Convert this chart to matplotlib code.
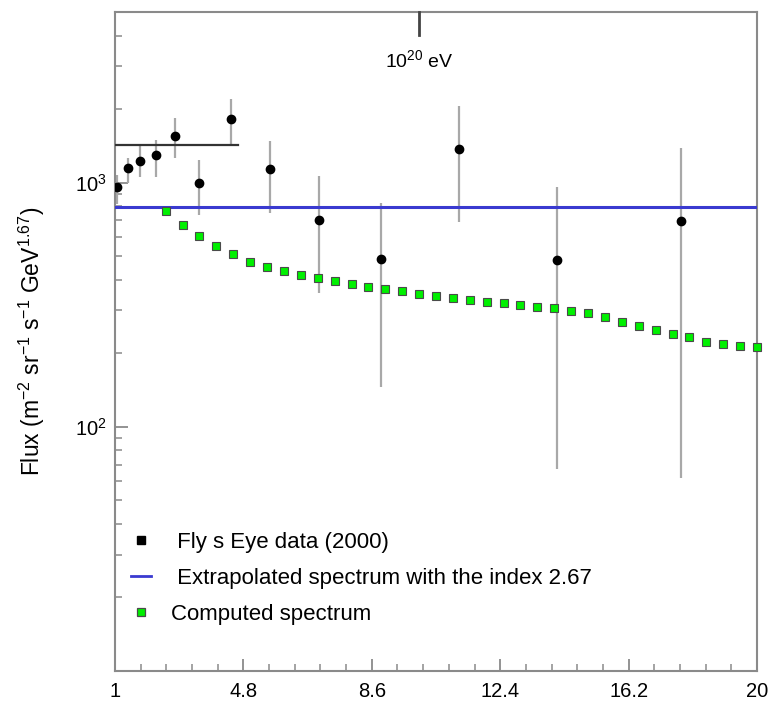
import numpy as np
import matplotlib
matplotlib.use("Agg")
import matplotlib.pyplot as plt
from matplotlib.lines import Line2D
from matplotlib.ticker import FixedLocator, LogLocator, NullFormatter, AutoMinorLocator

plt.rcParams['font.family'] = ['Liberation Sans', 'DejaVu Sans']
plt.rcParams['mathtext.default'] = 'regular'

# ---- data ----
fly_x = [1.07, 1.38, 1.74, 2.20, 2.78, 3.48, 4.43, 5.59, 7.04, 8.87, 11.18, 14.08, 17.75]
fly_y = [960, 1145, 1224, 1302, 1553, 1000, 1824, 1135, 703, 487, 1378, 484, 695]
fly_lo = [820, 997, 1055, 1055, 1262, 738, 1427, 751, 353, 146, 692, 67, 61.5]
fly_hi = [1080, 1262, 1413, 1497, 1842, 1239, 2203, 1482, 1065, 826, 2061, 963, 1388]

comp_x = [2.5, 3.0, 3.5, 4.0, 4.5, 5.0, 5.5, 6.0, 6.5, 7.0, 7.5, 8.0, 8.5, 9.0, 9.5,
          10.0, 10.5, 11.0, 11.5, 12.0, 12.5, 13.0, 13.5, 14.0, 14.5, 15.0, 15.5,
          16.0, 16.5, 17.0, 17.5, 18.0, 18.5, 19.0, 19.5, 20.0]
comp_y = [768, 673, 607, 551, 509, 473, 451, 434, 420, 408, 396, 385, 375, 366, 359,
          351, 343, 338, 331, 325, 321, 316, 311, 306, 297, 293, 282,
          270, 260, 249, 240, 233, 222, 218, 215, 213]

extrap_level = 798
ref_level_x = [1.0, 4.65]
ref_level_y = 1427
marker_e20_x = 10.0
marker_e20_y = [4030, 5000]

xticks = [1, 4.8, 8.6, 12.4, 16.2, 20]
xticklabels = ['1', '4.8', '8.6', '12.4', '16.2', '20']
yticks = [100, 1000]
yticklabels = ['$10^{2}$', '$10^{3}$']

# ---- figure ----
fig = plt.figure(figsize=(7.72, 7.04), dpi=100)
ax = fig.add_axes([115/772, 1-671/704, (757-115)/772, (671-12)/704])
ax.set_yscale('log')
ax.set_xlim(1, 20)
ax.set_ylim(10, 5000)

# extrapolated spectrum
ax.axhline(extrap_level, color='#3a3ad0', lw=2.2, zorder=3)
# reference level line
ax.plot(ref_level_x, [ref_level_y, ref_level_y], color='#333333', lw=1.6, zorder=3)
# 10^20 eV marker
ax.plot([marker_e20_x, marker_e20_x], marker_e20_y, color='#444444', lw=2, zorder=3, clip_on=False)
ax.text(marker_e20_x, 3180, '$10^{20}$ eV', ha='center', va='center', fontsize=14)

# error bars
fy = np.array(fly_y)
yerr = np.vstack([fy - np.array(fly_lo), np.array(fly_hi) - fy])
ax.errorbar(fly_x, fly_y, yerr=yerr, fmt='none', ecolor='#a8a8a8', elinewidth=1.6, capsize=0, zorder=2)
ax.plot(fly_x, fly_y, 'o', color='black', ms=6, zorder=5)

# computed spectrum
ax.plot(comp_x, comp_y, 's', ls='none', mfc='#00f000', mec='#4a4a4a', mew=0.8, ms=5.8, zorder=4, clip_on=False)

# axes styling
for sp in ax.spines.values():
    sp.set_color('#8a8a8a')
    sp.set_linewidth(1.5)

ax.xaxis.set_major_locator(FixedLocator(xticks))
ax.set_xticklabels(xticklabels)
ax.xaxis.set_minor_locator(AutoMinorLocator(5))
ax.yaxis.set_major_locator(FixedLocator(yticks))
ax.set_yticklabels(yticklabels)
ax.yaxis.set_minor_locator(LogLocator(base=10, subs=np.arange(2, 10)))
ax.yaxis.set_minor_formatter(NullFormatter())

ax.tick_params(which='major', direction='in', length=9, width=1.3, color='#8a8a8a', labelsize=14.5)
ax.tick_params(which='minor', direction='in', length=5, width=1.1, color='#8a8a8a')
ax.tick_params(axis='x', which='major', pad=8)
ax.tick_params(axis='y', which='major', pad=6)
ax.tick_params(top=False, right=False, which='both')

ax.set_ylabel('Flux (m$^{-2}$ sr$^{-1}$ s$^{-1}$ GeV$^{1.67}$)', fontsize=16.5, labelpad=20)

handles = [
    Line2D([], [], marker='s', ls='none', color='black', ms=6),
    Line2D([], [], color='#3a3ad0', lw=2),
    Line2D([], [], marker='s', ls='none', mfc='#00f000', mec='#4a4a4a', mew=0.9, ms=6),
]
labels = [' Fly s Eye data (2000)', ' Extrapolated spectrum with the index 2.67', 'Computed spectrum']
leg = ax.legend(handles, labels, loc='upper left', bbox_to_anchor=(0.025, 0.211),
                frameon=False, fontsize=16, handlelength=0.9, handletextpad=0.9,
                labelspacing=0.67, borderaxespad=0, borderpad=0)

fig.savefig('out.png', dpi=100)
